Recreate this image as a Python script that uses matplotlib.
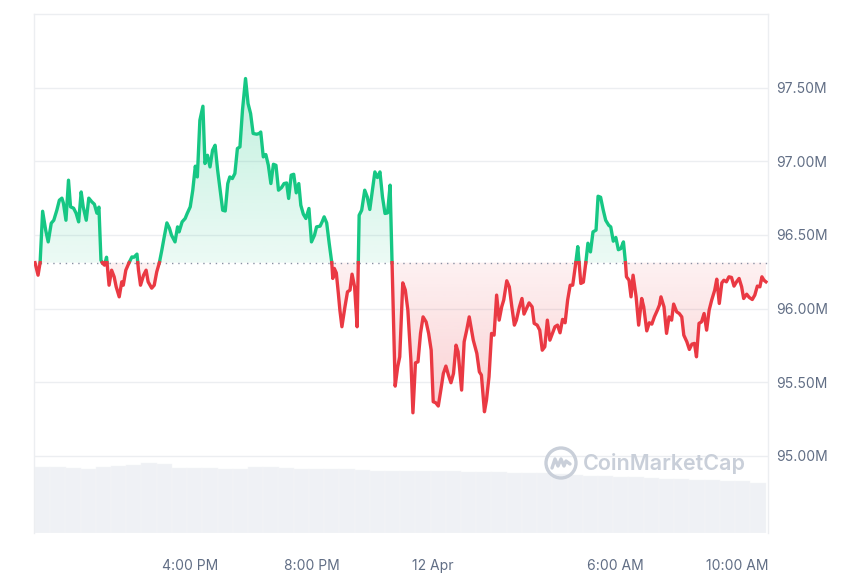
import numpy as np
import matplotlib
matplotlib.use("Agg")
import matplotlib.pyplot as plt
import matplotlib.colors as mcolors
from matplotlib.path import Path
from matplotlib.patches import Circle
from matplotlib.lines import Line2D
from matplotlib.transforms import IdentityTransform

# time in minutes after 11 Apr 10:55, price in millions
minutes = [
    0, 6, 10, 15, 21, 26, 32, 37, 43, 48,
    53, 56, 61, 66, 70, 76, 81, 86, 91, 95,
    101, 106, 112, 117, 122, 126, 130, 133, 137, 141,
    146, 151, 156, 160, 166, 171, 174, 179, 185, 191,
    195, 201, 204, 208, 214, 219, 223, 230, 235, 240,
    245, 250, 255, 260, 265, 269, 276, 281, 284, 290,
    296, 300, 306, 311, 316, 320, 325, 331, 335, 340,
    345, 350, 355, 360, 365, 370, 375, 380, 384, 389,
    394, 399, 404, 409, 415, 420, 425, 430, 437, 442,
    445, 450, 455, 460, 465, 470, 475, 480, 486, 491,
    496, 500, 505, 510, 515, 520, 524, 529, 534, 540,
    545, 551, 555, 562, 566, 570, 575, 580, 585, 587,
    590, 594, 598, 601, 605, 611, 616, 621, 625, 630,
    635, 639, 644, 650, 655, 660, 666, 670, 675, 680,
    685, 690, 695, 700,
    710, 715, 719, 725, 730, 735, 741, 745, 750, 755,
    760, 765, 771, 776, 781, 785, 790, 795, 800, 805,
    810, 815, 820, 825, 830, 834, 841, 846, 851, 856,
    864, 871, 876, 880, 886, 890, 895, 900, 905, 910,
    915, 920, 924, 930, 935, 940, 945, 949, 955, 960,
    964, 969, 974, 980, 984, 990, 995, 1000, 1005, 1010,
    1015, 1020, 1025, 1030, 1035, 1040, 1045, 1050, 1055, 1060,
    1066, 1070, 1076, 1081, 1086, 1090, 1095, 1100, 1106, 1110,
    1115, 1120, 1125, 1131, 1135, 1140, 1145, 1150, 1155, 1160,
    1164, 1166, 1171, 1175, 1179, 1185, 1190, 1196, 1200, 1206,
    1211, 1216, 1221, 1227, 1231, 1234, 1240, 1245, 1250, 1255,
    1259, 1265, 1270, 1275, 1279, 1285, 1290, 1295, 1300, 1304,
    1309, 1314, 1319, 1324, 1329, 1334, 1340, 1344, 1349, 1354,
    1358, 1363, 1368, 1373, 1378, 1383, 1388, 1393, 1397, 1403,
    1408, 1414, 1419, 1424, 1429, 1433, 1437, 1441,
]
price = [
    96.312, 96.227, 96.309, 96.661, 96.533, 96.453, 96.580, 96.600, 96.668, 96.736,
    96.750, 96.716, 96.600, 96.872, 96.691, 96.682, 96.648, 96.589, 96.792, 96.691,
    96.600, 96.750, 96.725, 96.709, 96.648, 96.689, 96.329, 96.309, 96.295, 96.349,
    96.159, 96.261, 96.216, 96.148, 96.080, 96.182, 96.159, 96.261, 96.309, 96.351,
    96.349, 96.370, 96.261, 96.159, 96.227, 96.261, 96.182, 96.139, 96.159, 96.250,
    96.309, 96.397, 96.492, 96.582, 96.546, 96.499, 96.453, 96.555, 96.521, 96.589,
    96.612, 96.646, 96.691, 96.804, 96.967, 96.894, 97.279, 97.374, 96.985, 97.041,
    96.962, 97.075, 97.109, 96.940, 96.804, 96.668, 96.663, 96.849, 96.894, 96.883,
    96.917, 97.087, 97.098, 97.347, 97.562, 97.392, 97.324, 97.189, 97.184, 97.189,
    97.199, 97.030, 97.046, 96.973, 96.849, 96.980, 96.973, 96.804, 96.822, 96.849,
    96.853, 96.748, 96.906, 96.912, 96.786, 96.849, 96.702, 96.641, 96.612, 96.680,
    96.453, 96.499, 96.555, 96.560, 96.589, 96.623, 96.582, 96.442, 96.313, 96.205,
    96.273, 96.242, 96.103, 95.990, 95.877, 96.012, 96.114, 96.126, 96.234, 96.148,
    95.877, 96.634, 96.668, 96.804, 96.758, 96.673, 96.826, 96.928, 96.890, 96.928,
    96.758, 96.646, 96.650, 96.838,
    95.474, 95.605, 95.673, 96.175, 96.126, 95.990, 95.651, 95.293, 95.632, 95.639,
    95.832, 95.944, 95.910, 95.832, 95.718, 95.368, 95.361, 95.339, 95.447, 95.560,
    95.610, 95.549, 95.497, 95.560, 95.752, 95.707, 95.447, 95.775, 95.854, 95.944,
    95.786, 95.696, 95.571, 95.549, 95.300, 95.379, 95.537, 95.832, 95.820, 96.092,
    95.922, 96.012, 96.058, 96.189, 96.148, 96.012, 95.888, 95.922, 96.012, 96.069,
    95.963, 96.001, 96.039, 96.012, 95.900, 95.888, 95.854, 95.718, 95.741, 95.922,
    95.786, 95.832, 95.877, 95.888, 95.836, 95.927, 95.904, 96.058, 96.159, 96.159,
    96.309, 96.421, 96.171, 96.180, 96.317, 96.444, 96.385, 96.521, 96.533, 96.763,
    96.756, 96.672, 96.600, 96.566, 96.555, 96.458, 96.483, 96.400, 96.408, 96.453,
    96.313, 96.216, 96.193, 96.080, 96.227, 96.080, 95.888, 96.069, 96.012, 95.849,
    95.904, 95.895, 95.944, 95.990, 96.024, 96.080, 96.012, 95.832, 95.944, 95.922,
    96.031, 95.978, 95.967, 95.944, 95.820, 95.775, 95.723, 95.759, 95.764, 95.673,
    95.900, 95.910, 95.967, 95.854, 95.990, 96.058, 96.126, 96.200, 96.035, 96.175,
    96.193, 96.182, 96.216, 96.212, 96.153, 96.182, 96.205, 96.148, 96.069, 96.098,
    96.076, 96.062, 96.092, 96.153, 96.148, 96.216, 96.193, 96.182,
]

# volume (relative), one bar per 30 minutes
volume = [
    66.3, 66.3, 65.0, 64.0, 66.5, 67.0, 68.5, 70.0, 69.0, 64.7,
    64.7, 64.7, 64.3, 64.5, 65.7, 65.7, 65.5, 64.0, 64.0, 64.0,
    64.0, 63.5, 62.5, 62.0, 62.0, 62.0, 62.0, 61.8, 61.5, 61.2,
    60.8, 60.5, 60.1, 59.8, 59.2, 58.2, 57.5, 56.8, 56.2, 55.6,
    55.0, 54.3, 53.8, 53.2, 52.6, 52.1, 51.6, 50.5,
]
vol_step = 30

tick_minutes = [305, 545, 785, 1145, 1385]
tick_labels = ["4:00 PM", "8:00 PM", "12 Apr", "6:00 AM", "10:00 AM"]
price_ticks = [95.0, 95.5, 96.0, 96.5, 97.0, 97.5]

GREEN = "#16c784"
RED = "#ea3943"
GRID = "#eceef1"
TXT = "#616e85"

plt.rcParams["font.family"] = ["Inter", "DejaVu Sans"]

t = np.array(minutes, dtype=float)
p = np.array(price)
base = p[0]

# add the points where the line crosses the opening price
tt, pp = [t[0]], [p[0]]
for i in range(len(t) - 1):
    a, b = p[i] - base, p[i + 1] - base
    if a * b < 0:
        f = a / (a - b)
        tt.append(t[i] + f * (t[i + 1] - t[i]))
        pp.append(base)
    tt.append(t[i + 1])
    pp.append(p[i + 1])
tt = np.array(tt)
pp = np.array(pp)

fig = plt.figure(figsize=(8.6, 5.73), dpi=100)
rect = [34 / 860, 40 / 573, 734 / 860, 519 / 573]

# volume underneath
axv = fig.add_axes(rect)
vx = np.arange(len(volume)) * vol_step + vol_step / 2
axv.bar(vx, volume, width=vol_step + 0.2, color="#eff1f5", edgecolor="#f5f6f8", linewidth=0.3)
axv.set_xlim(-2, 1445)
axv.set_ylim(0, 519)
axv.axis("off")

ax = fig.add_axes(rect)
ax.patch.set_visible(False)
ax.set_xlim(-2, 1445)
ax.set_ylim(94.477, 98.0)


def gradient_fill(lower, upper, color, y0, y1, a0, a1):
    poly = ax.fill_between(tt, lower, upper, facecolor="none", edgecolor="none")
    path = Path.make_compound_path(*poly.get_paths())
    grad = np.zeros((256, 1, 4))
    grad[:, 0, :3] = mcolors.to_rgb(color)
    grad[:, 0, 3] = np.linspace(a0, a1, 256)
    im = ax.imshow(grad, aspect="auto", origin="lower", zorder=2,
                   extent=[tt.min(), tt.max(), y0, y1], interpolation="bilinear")
    im.set_clip_path(path, transform=ax.transData)


gradient_fill(base, np.maximum(pp, base), GREEN, base, pp.max(), 0.08, 0.27)
gradient_fill(np.minimum(pp, base), base, RED, pp.min(), base, 0.24, 0.07)

up = np.ma.masked_where(pp < base, pp)
down = np.ma.masked_where(pp > base, pp)
ax.plot(tt, up, color=GREEN, lw=2.4, zorder=4, solid_joinstyle="round")
ax.plot(tt, down, color=RED, lw=2.4, zorder=4, solid_joinstyle="round")
ax.axhline(base, color="#8a91a5", lw=1.0, ls=(0, (1, 3.5)), zorder=3)

ax.set_xlim(-2, 1445)
ax.set_ylim(94.477, 98.0)

ax.set_yticks(price_ticks)
ax.set_yticklabels([f"{v:.2f}M" for v in price_ticks])
ax.yaxis.tick_right()
ax.set_xticks(tick_minutes)
ax.set_xticklabels(tick_labels)
ax.tick_params(axis="both", length=0, labelsize=10, labelcolor=TXT)
ax.tick_params(axis="y", pad=6)
ax.tick_params(axis="x", pad=19)
ax.grid(axis="y", color=GRID, lw=1)
ax.set_axisbelow(True)
for s in ["top", "left", "right"]:
    ax.spines[s].set_color(GRID)
    ax.spines[s].set_linewidth(1)
ax.spines["bottom"].set_visible(False)

# watermark
wm = "#c9cfd9"
ident = IdentityTransform()
cx, cy = 561, 573 - 463
fig.patches.append(Circle((cx, cy), 15, transform=ident, fill=False, ec=wm, lw=2.4, zorder=3))
wx = np.array([-9, -6, -3, 0, 3, 5, 9])
wy = np.array([-5, 4, -3, 4, -3, 2, -1])
fig.lines.append(Line2D(cx + wx, cy + wy, transform=ident, color=wm, lw=2.4,
                        solid_joinstyle="round", solid_capstyle="round"))
fig.text(583 / 860, 1 - 464 / 573, "CoinMarketCap", color=wm, fontsize=15.5,
         fontweight="semibold", va="center", ha="left")

fig.savefig("out.png", dpi=100)
